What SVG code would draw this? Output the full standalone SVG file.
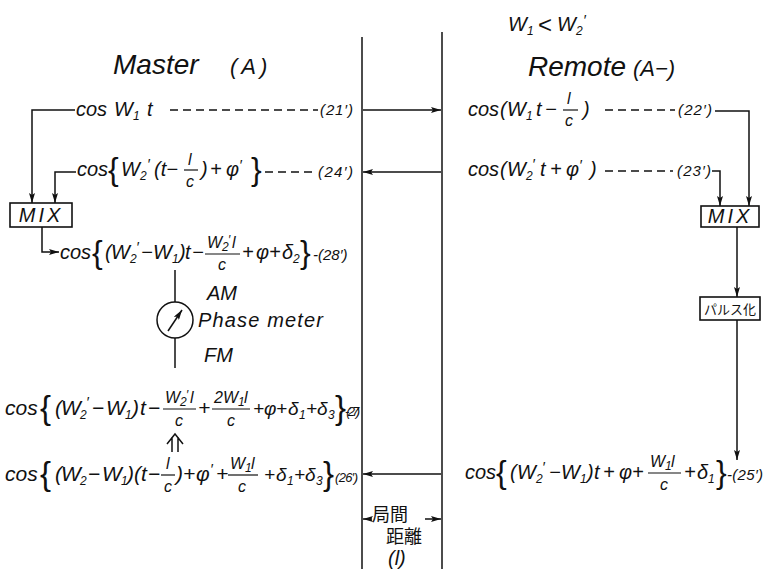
<svg xmlns="http://www.w3.org/2000/svg" width="765" height="569" viewBox="0 0 765 569">
<defs>
<style>
.m{font-family:"Liberation Sans","DejaVu Sans",sans-serif;font-style:italic;font-size:20px;fill:#111}
.m2{font-family:"Liberation Sans","DejaVu Sans",sans-serif;font-style:italic;font-size:21px;fill:#111}
.sb{font-size:12px}
.fr{font-size:16px}
.pr{font-size:15px}
.br{font-style:normal;font-size:32px}
.br2{font-style:normal;font-size:33px}
.nb{font-size:15px}
.nb2{font-size:13px}
.ttl{font-family:"Liberation Sans","DejaVu Sans",sans-serif;font-style:italic;font-size:28px;fill:#111}
.cjk{font-family:"Noto Sans CJK JP","Noto Sans CJK SC",sans-serif;fill:#111}
.ln{stroke:#111;stroke-width:1.5;fill:none}
.dash{stroke:#111;stroke-width:1.4;stroke-dasharray:8 5;fill:none}
.bar{stroke:#111;stroke-width:1.2}
.box{stroke:#111;stroke-width:1.6;fill:#fff}
</style>
<marker id="ah" viewBox="0 0 10 6" refX="10" refY="3" markerWidth="10" markerHeight="6" markerUnits="userSpaceOnUse" orient="auto"><path d="M0,0 L10,3 L0,6 L2,3 Z" fill="#111"/></marker>
</defs>
<rect width="765" height="569" fill="#fff"/>

<g id="boundary">
<line class="ln" x1="362" y1="37" x2="362" y2="569" stroke-width="2"/>
<line class="ln" x1="442" y1="32" x2="442" y2="569" stroke-width="2"/>
</g>

<g id="headers">
<text class="m" y="31"><tspan x="508">W</tspan><tspan class="sb" x="527" y="35">1</tspan><tspan x="538" y="33" font-size="24" font-style="normal">&lt;</tspan><tspan x="557" y="31">W</tspan><tspan class="sb" x="576" y="35">2</tspan><tspan class="pr" x="583" y="25">′</tspan></text>
<text class="ttl" y="74"><tspan x="113">Master</tspan><tspan x="230" font-size="22" letter-spacing="4">(A)</tspan></text>
<text class="ttl" y="76"><tspan x="528">Remote</tspan><tspan x="633" font-size="22">(A−)</tspan></text>
</g>

<g id="connectors">
<line class="ln" x1="363" y1="110" x2="441" y2="110" marker-end="url(#ah)"/>
<line class="ln" x1="441" y1="172" x2="363" y2="172" marker-end="url(#ah)"/>
<line class="ln" x1="441" y1="474" x2="363" y2="474" marker-end="url(#ah)"/>
<polyline class="ln" points="75,110 32,110 32,203" marker-end="url(#ah)"/>
<polyline class="ln" points="76,172 55,172 55,203" marker-end="url(#ah)"/>
<polyline class="ln" points="42,227 42,252 59,252" marker-end="url(#ah)"/>
<polyline class="ln" points="715,111 749,111 749,206" marker-end="url(#ah)"/>
<polyline class="ln" points="712,171 720,171 720,206" marker-end="url(#ah)"/>
<line class="ln" x1="737" y1="227" x2="737" y2="297" marker-end="url(#ah)"/>
<line class="ln" x1="737" y1="320" x2="737" y2="460" marker-end="url(#ah)"/>
<line class="ln" x1="175" y1="270" x2="175" y2="302"/>
<line class="ln" x1="175" y1="338" x2="175" y2="368"/>
<path class="ln" d="M172,452 V437 M178,452 V437 M167,444 L175,434 L183,444"/>
<line class="ln" x1="372" y1="519" x2="363" y2="519" marker-end="url(#ah)"/>
<line class="ln" x1="425" y1="519" x2="441" y2="519" marker-end="url(#ah)"/>
</g>

<g id="eq21">
<text class="m" y="116"><tspan x="76">cos </tspan><tspan x="114">W</tspan><tspan class="sb" x="133" y="120">1</tspan><tspan x="147" y="116">t</tspan></text>
<line class="dash" x1="170" y1="110" x2="318" y2="110"/>
<text class="m nb" x="320" y="115" textLength="33">(21′)</text>
</g>

<g id="eq24">
<text class="m" y="176"><tspan x="77">cos</tspan><tspan class="br" x="108" y="180">{</tspan><tspan x="121" y="176">W</tspan><tspan class="sb" x="140" y="180">2</tspan><tspan class="pr" x="147" y="169">′</tspan><tspan x="154" y="176">(t−</tspan><tspan class="fr" x="188" y="165">l</tspan><tspan class="fr" x="186" y="187">c</tspan><tspan x="201" y="176">)</tspan><tspan x="210">+</tspan><tspan x="226">φ</tspan><tspan class="pr" x="239" y="170">′</tspan><tspan class="br" x="251" y="180">}</tspan></text>
<line class="bar" x1="184" y1="170" x2="198" y2="170"/>
<line class="dash" x1="265" y1="172" x2="317" y2="172"/>
<text class="m nb" x="318" y="177" textLength="35">(24′)</text>
</g>

<g id="mixL">
<rect class="box" x="10" y="203" width="62" height="24"/>
<text class="m" x="41" y="222" text-anchor="middle" letter-spacing="3">MIX</text>
</g>

<g id="eq28">
<text class="m" y="259"><tspan x="60">cos</tspan><tspan class="br" x="92" y="263">{</tspan><tspan x="105" y="259">(</tspan><tspan x="111">W</tspan><tspan class="sb" x="130" y="263">2</tspan><tspan class="pr" x="136" y="252">′</tspan><tspan x="141" y="259">−</tspan><tspan x="153">W</tspan><tspan class="sb" x="172" y="263">1</tspan><tspan x="179" y="259">)</tspan><tspan x="185">t</tspan><tspan x="192">−</tspan><tspan class="fr" x="207" y="248">W</tspan><tspan class="sb" x="222" y="251">2</tspan><tspan class="sb" x="228" y="244">′</tspan><tspan class="fr" x="232" y="248">l</tspan><tspan class="fr" x="218" y="270">c</tspan><tspan x="242" y="259">+</tspan><tspan x="256">φ</tspan><tspan x="269">+</tspan><tspan x="282">δ</tspan><tspan class="sb" x="293" y="263">2</tspan><tspan class="br" x="300" y="263">}</tspan><tspan class="nb" x="313" y="260">-(28′)</tspan></text>
<line class="bar" x1="205" y1="254" x2="240" y2="254"/>
</g>

<g id="phasemeter">
<circle class="ln" cx="175" cy="320" r="18"/>
<line class="ln" x1="168" y1="331" x2="182" y2="310" marker-end="url(#ah)"/>
<text class="m" x="207" y="300">AM</text>
<text class="m" x="198" y="327" textLength="125">Phase meter</text>
<text class="m" x="204" y="362">FM</text>
</g>

<g id="eq27">
<text class="m2" y="415"><tspan x="5">cos</tspan><tspan class="br2" x="40" y="419">{</tspan><tspan x="55" y="415">(</tspan><tspan x="61">W</tspan><tspan class="sb" x="80" y="419">2</tspan><tspan class="pr" x="86" y="407">′</tspan><tspan x="92" y="415">−</tspan><tspan x="106">W</tspan><tspan class="sb" x="125" y="419">1</tspan><tspan x="132" y="415">)</tspan><tspan x="140">t</tspan><tspan x="148">−</tspan><tspan class="fr" x="165" y="403">W</tspan><tspan class="sb" x="180" y="406">2</tspan><tspan class="sb" x="186" y="399">′</tspan><tspan class="fr" x="190" y="403">l</tspan><tspan class="fr" x="175" y="426">c</tspan><tspan x="198" y="415">+</tspan><tspan class="fr" x="214" y="403">2W</tspan><tspan class="sb" x="238" y="406">1</tspan><tspan class="fr" x="244" y="403">l</tspan><tspan class="fr" x="227" y="426">c</tspan><tspan x="253" y="415" font-size="19">+</tspan><tspan x="264" font-size="19">φ</tspan><tspan x="276" font-size="19">+</tspan><tspan x="288" font-size="19">δ</tspan><tspan class="sb" x="299" y="419">1</tspan><tspan x="306" y="415" font-size="19">+</tspan><tspan x="317" font-size="19">δ</tspan><tspan class="sb" x="328" y="419">3</tspan><tspan class="br2" x="335" y="419">}</tspan><tspan class="nb2" x="345" y="416" textLength="15">-(27′)</tspan></text>
<line class="bar" x1="163" y1="409" x2="196" y2="409"/>
<line class="bar" x1="212" y1="409" x2="250" y2="409"/>
</g>

<g id="eq26">
<text class="m2" y="481"><tspan x="5">cos</tspan><tspan class="br2" x="40" y="485">{</tspan><tspan x="55" y="481">(</tspan><tspan x="61">W</tspan><tspan class="sb" x="80" y="485">2</tspan><tspan x="88" y="481">−</tspan><tspan x="102">W</tspan><tspan class="sb" x="121" y="485">1</tspan><tspan x="127" y="481">)</tspan><tspan x="134">(</tspan><tspan x="141">t</tspan><tspan x="148">−</tspan><tspan class="fr" x="166" y="469">l</tspan><tspan class="fr" x="164" y="492">c</tspan><tspan x="176" y="481">)</tspan><tspan x="183">+</tspan><tspan x="196">φ</tspan><tspan class="pr" x="210" y="474">′</tspan><tspan x="216" y="481">+</tspan><tspan class="fr" x="230" y="469">W</tspan><tspan class="sb" x="245" y="472">1</tspan><tspan class="fr" x="251" y="469">l</tspan><tspan class="fr" x="238" y="492">c</tspan><tspan x="264" y="481" font-size="19">+</tspan><tspan x="276" font-size="19">δ</tspan><tspan class="sb" x="287" y="485">1</tspan><tspan x="294" y="481" font-size="19">+</tspan><tspan x="305" font-size="19">δ</tspan><tspan class="sb" x="316" y="485">3</tspan><tspan class="br2" x="323" y="485">}</tspan><tspan class="nb2" x="335" y="482" textLength="23">(26′)</tspan></text>
<line class="bar" x1="161" y1="475" x2="175" y2="475"/>
<line class="bar" x1="228" y1="475" x2="258" y2="475"/>
</g>

<g id="distance">
<text class="cjk" x="372" y="521" font-size="18">局間</text>
<text class="cjk" x="386" y="543" font-size="18">距離</text>
<text class="m" x="388" y="565" font-size="16">(l)</text>
</g>

<g id="eq22">
<text class="m" y="116"><tspan x="468">cos</tspan><tspan x="500">(</tspan><tspan x="507">W</tspan><tspan class="sb" x="526" y="120">1</tspan><tspan x="536" y="116">t</tspan><tspan x="545">−</tspan><tspan class="fr" x="567" y="104">l</tspan><tspan class="fr" x="565" y="126">c</tspan><tspan x="583" y="116">)</tspan></text>
<line class="bar" x1="563" y1="110" x2="578" y2="110"/>
<line class="dash" x1="605" y1="110" x2="675" y2="110"/>
<text class="m nb" x="678" y="115" textLength="34">(22′)</text>
</g>

<g id="eq23">
<text class="m" y="176"><tspan x="468">cos</tspan><tspan x="500">(</tspan><tspan x="507">W</tspan><tspan class="sb" x="526" y="180">2</tspan><tspan class="pr" x="532" y="169">′</tspan><tspan x="540" y="176">t</tspan><tspan x="550">+</tspan><tspan x="566">φ</tspan><tspan class="pr" x="579" y="170">′</tspan><tspan x="590" y="176">)</tspan></text>
<line class="dash" x1="605" y1="171" x2="673" y2="171"/>
<text class="m nb" x="677" y="176" textLength="34">(23′)</text>
</g>

<g id="mixR">
<rect class="box" x="701" y="206" width="58" height="21"/>
<text class="m" x="730" y="223" text-anchor="middle" letter-spacing="3" font-size="18">MIX</text>
</g>

<g id="pulse">
<rect class="box" x="700" y="297" width="60" height="23"/>
<text class="cjk" x="730" y="314" text-anchor="middle" font-size="13">パルス化</text>
</g>

<g id="eq25">
<text class="m" y="479"><tspan x="465">cos</tspan><tspan class="br" x="496" y="483">{</tspan><tspan x="510" y="479">(</tspan><tspan x="517">W</tspan><tspan class="sb" x="536" y="483">2</tspan><tspan class="pr" x="542" y="472">′</tspan><tspan x="549" y="479">−</tspan><tspan x="561">W</tspan><tspan class="sb" x="580" y="483">1</tspan><tspan x="587" y="479">)</tspan><tspan x="594">t</tspan><tspan x="603">+</tspan><tspan x="619">φ</tspan><tspan x="632">+</tspan><tspan class="fr" x="650" y="467">W</tspan><tspan class="sb" x="665" y="470">1</tspan><tspan class="fr" x="671" y="467">l</tspan><tspan class="fr" x="660" y="490">c</tspan><tspan x="684" y="479">+</tspan><tspan x="697">δ</tspan><tspan class="sb" x="708" y="483">1</tspan><tspan class="br" x="716" y="483">}</tspan><tspan class="nb" x="727" y="480" textLength="36">-(25′)</tspan></text>
<line class="bar" x1="648" y1="473" x2="681" y2="473"/>
</g>
</svg>
